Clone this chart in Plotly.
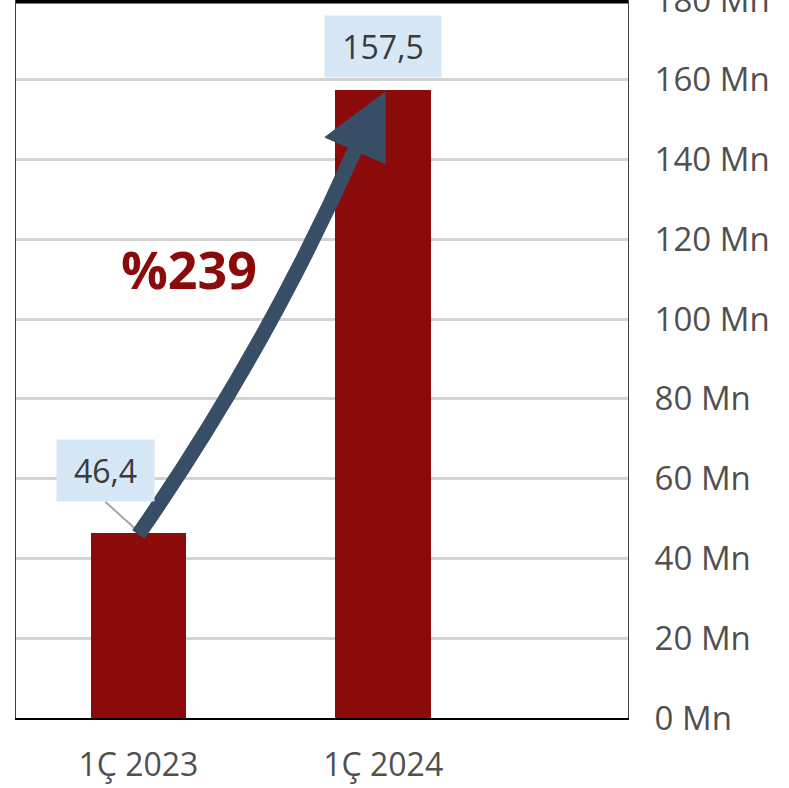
import plotly.graph_objects as go

# ---- data ----
categories = ["1Ç 2023", "1Ç 2024"]
cat_pos = [0, 1]
values = [46.4, 157.5]
value_labels = ["46,4", "157,5"]
growth_label = "%239"
y_tick_vals = [0, 20, 40, 60, 80, 100, 120, 140, 160, 180]
y_tick_text = [f"{v} Mn" for v in y_tick_vals]
x_tick_marks = [-0.5, 0.5, 1.0, 1.5, 2.0]

BAR = "#8B0B0B"
ARROW = "#374E66"
BOX = "#D6E7F5"
FONT = "Open Sans"

fig = go.Figure()
fig.add_trace(go.Bar(x=cat_pos, y=values, width=0.39, marker_color=BAR,
                     marker_line_width=0, showlegend=False, hoverinfo="skip"))

shapes = []
# top border
shapes.append(dict(type="line", xref="paper", yref="paper", x0=0, x1=1, y0=0.998, y1=0.998,
                   line=dict(color="black", width=4), layer="above"))
# x tick marks
for t in x_tick_marks:
    shapes.append(dict(type="line", xref="x", yref="y", x0=t, x1=t, y0=0, y1=-3.8,
                       line=dict(color="#bfbfbf", width=2), layer="above"))
# leader line for 46,4 label
shapes.append(dict(type="line", xref="x", yref="y", x0=-0.135, y0=54.2, x1=-0.012, y1=47.4,
                   line=dict(color="#a6a6a6", width=2), layer="above"))
# curved growth arrow shaft
shapes.append(dict(type="path", xref="x", yref="y",
                   path="M 0,46.0 Q 0.52,92 0.885,142.5",
                   line=dict(color=ARROW, width=15), layer="above"))
# arrow head
shapes.append(dict(type="path", xref="x", yref="y",
                   path="M 1.008,156.9 L 0.762,145.6 L 1.008,139.0 Z",
                   fillcolor=ARROW, line=dict(color=ARROW, width=1), layer="above"))

annotations = [
    dict(x=cat_pos[1], y=values[1], text=value_labels[1], showarrow=False, yshift=43,
         bgcolor=BOX, width=116, height=61, borderpad=0,
         font=dict(family=FONT, size=32, color="#3a3a3a")),
    dict(x=cat_pos[0], y=values[0], text=value_labels[0], showarrow=False,
         xshift=-32.5, yshift=62.5,
         bgcolor=BOX, width=97, height=61, borderpad=0,
         font=dict(family=FONT, size=32, color="#3a3a3a")),
    dict(x=0.205, y=112.8, text="<b>" + growth_label + "</b>", showarrow=False,
         font=dict(family=FONT, size=52, color=BAR)),
]

fig.update_layout(
    width=789, height=788,
    margin=dict(l=16, r=161, t=0, b=70, autoexpand=False),
    plot_bgcolor="white", paper_bgcolor="white",
    bargap=0,
    shapes=shapes, annotations=annotations,
    xaxis=dict(range=[-0.5, 2.0], tickvals=cat_pos, ticktext=categories, automargin=False,
               ticks="", ticklabelstandoff=18, showgrid=False, zeroline=False,
               showline=True, linecolor="black", linewidth=2,
               tickfont=dict(family=FONT, size=32, color="#505050")),
    yaxis=dict(range=[0, 180], side="right", tickvals=y_tick_vals, ticktext=y_tick_text,
               automargin=False, ticklabeloverflow="allow",
               ticks="", ticklabelstandoff=19, showgrid=True, gridcolor="#d3d3d3",
               gridwidth=3, zeroline=False, showline=True, mirror=True,
               linecolor="#404040", linewidth=1,
               tickfont=dict(family=FONT, size=33, color="#505050")),
)

fig.write_html("out.html", config={"displayModeBar": False},
               post_script="document.body.style.margin='0';document.body.style.overflow='hidden';")
